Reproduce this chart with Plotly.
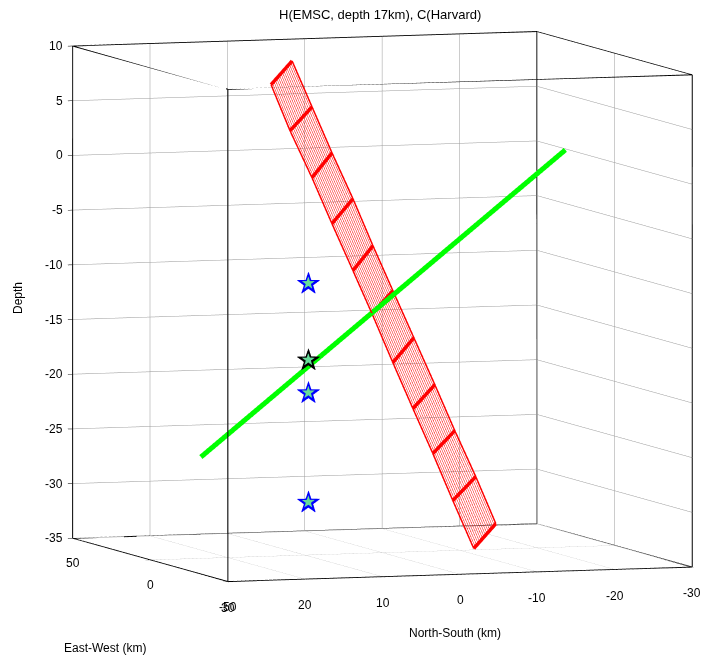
import numpy as np
import plotly.graph_objects as go

# ---------------- data ----------------
title_text = "H(EMSC, depth 17km), C(Harvard)"
ew_title = "East-West (km)"
ns_title = "North-South (km)"
depth_title = "Depth"
ew_range = [-50, 50]
ns_range = [-30, 30]
depth_range = [-35, 10]
ew_ticks = [-50, 0, 50]
ns_ticks = [-30, -20, -10, 0, 10, 20, 30]
depth_ticks = [-35, -30, -25, -20, -15, -10, -5, 0, 5, 10]

# fault plane strip (mesh): the two long edges, sampled at each cross line
strip_left_ew = 0.0
strip_left_ns = [14.39, 11.94, 9.10, 6.52, 3.81, 1.35, -1.35, -3.94, -6.52, -9.10, -11.81]
strip_left_z = [8.10, 3.84, -0.52, -4.78, -9.13, -13.11, -17.65, -21.91, -26.08, -30.43, -34.88]
strip_right_ew = 5.0
strip_right_ns = [10.67, 8.09, 5.51, 2.80, 0.22, -2.36, -5.07, -7.78, -10.36, -13.07, -15.66]
strip_right_z = [9.99, 5.73, 1.47, -2.79, -7.14, -11.31, -15.67, -20.02, -24.28, -28.54, -32.89]
strip_mesh_lines = 16

# green line
green_ew = [0.0, 0.0]
green_ns = [23.46, -23.64]
green_z = [-25.74, 1.30]

# hypocentres
star_ew = -2.0
star_ns = 10.0
blue_z = [-10, -20, -30]
black_z = [-17]

# ---------------- traces ----------------
fig = go.Figure()

# box frame derived from axis ranges
fx, fy, fz = [], [], []
X0, X1 = ew_range
Y0, Y1 = ns_range
Z0, Z1 = depth_range
edges = []
for y in (Y0, Y1):
    for z in (Z0, Z1):
        edges.append(((X0, y, z), (X1, y, z)))
for x in (X0, X1):
    for z in (Z0, Z1):
        edges.append(((x, Y0, z), (x, Y1, z)))
for x in (X0, X1):
    for y in (Y0, Y1):
        edges.append(((x, y, Z0), (x, y, Z1)))
for a, b in edges:
    fx += [a[0], b[0], None]
    fy += [a[1], b[1], None]
    fz += [a[2], b[2], None]
fig.add_trace(go.Scatter3d(x=fx, y=fy, z=fz, mode="lines",
                           line=dict(color="black", width=2),
                           hoverinfo="skip", showlegend=False))

# strip mesh: long lines
lns = np.array(strip_left_ns); lz = np.array(strip_left_z)
rns = np.array(strip_right_ns); rz = np.array(strip_right_z)
mx, my, mz = [], [], []
for f in np.linspace(0, 1, strip_mesh_lines):
    ew = strip_left_ew + f * (strip_right_ew - strip_left_ew)
    ns = lns + f * (rns - lns)
    zz = lz + f * (rz - lz)
    mx += [ew] * len(ns) + [None]
    my += list(ns) + [None]
    mz += list(zz) + [None]
fig.add_trace(go.Scatter3d(x=mx, y=my, z=mz, mode="lines",
                           line=dict(color="#ff0000", width=1),
                           hoverinfo="skip", showlegend=False))
# strip long edges
for ew, ns, zz in ((strip_left_ew, strip_left_ns, strip_left_z),
                   (strip_right_ew, strip_right_ns, strip_right_z)):
    fig.add_trace(go.Scatter3d(x=[ew] * len(ns), y=ns, z=zz, mode="lines",
                               line=dict(color="#ff0000", width=3),
                               hoverinfo="skip", showlegend=False))
# thick cross lines
cx, cy, cz = [], [], []
for i in range(len(strip_left_ns)):
    cx += [strip_left_ew, strip_right_ew, None]
    cy += [strip_left_ns[i], strip_right_ns[i], None]
    cz += [strip_left_z[i], strip_right_z[i], None]
fig.add_trace(go.Scatter3d(x=cx, y=cy, z=cz, mode="lines",
                           line=dict(color="#ff0000", width=7),
                           hoverinfo="skip", showlegend=False))

# green line
fig.add_trace(go.Scatter3d(x=green_ew, y=green_ns, z=green_z, mode="lines",
                           line=dict(color="#00ff00", width=10),
                           hoverinfo="skip", showlegend=False))

# stars (outline + fill)
for zs, col in ((blue_z, "#0000ff"), (black_z, "#000000")):
    fig.add_trace(go.Scatter3d(x=[star_ew] * len(zs), y=[star_ns] * len(zs), z=zs,
                               mode="text", text=["\u2605"] * len(zs),
                               textposition="middle center",
                               textfont=dict(size=31, color=col, family="DejaVu Sans"),
                               hoverinfo="skip", showlegend=False))
allz = blue_z + black_z
fig.add_trace(go.Scatter3d(x=[star_ew] * len(allz), y=[star_ns] * len(allz), z=allz,
                           mode="text", text=["\u2605"] * len(allz),
                           textposition="middle center",
                           textfont=dict(size=17, color="#66dd99", family="DejaVu Sans"),
                           hoverinfo="skip", showlegend=False))

axis_common = dict(showbackground=False, showgrid=True, gridcolor="#9a9a9a", gridwidth=1,
                   zeroline=False, showline=True, linecolor="black", linewidth=1.5,
                   mirror=True, showspikes=False,
                   ticks="outside", ticklen=5, tickcolor="black",
                   showticklabels=False, title=dict(text=""))

# tick labels as scene annotations (placed at the tick positions of the axes)
tick_font = dict(family="Liberation Sans, Arial", size=12, color="black")
scene_ann = []
for v in depth_ticks:
    scene_ann.append(dict(x=X1, y=Y1, z=v, text=str(v), showarrow=False,
                          xanchor="right", yanchor="middle", xshift=-8, font=tick_font))
for v in ew_ticks:
    scene_ann.append(dict(x=v, y=Y1, z=Z0, text=str(v), showarrow=False,
                          xanchor="center", yanchor="middle", yshift=-25, font=tick_font))
for v in ns_ticks:
    scene_ann.append(dict(x=X0, y=v, z=Z0, text=str(v), showarrow=False,
                          xanchor="center", yanchor="middle", yshift=-26, font=tick_font))

# camera (orthographic), shifted so the box sits where the reference has it
phi = np.deg2rad(161.5)
theta = np.deg2rad(5.35)
dirv = np.array([np.cos(theta) * np.cos(phi), np.cos(theta) * np.sin(phi), np.sin(theta)])
right_v = np.array([-np.sin(phi), np.cos(phi), 0.0])
up_v = np.array([-np.sin(theta) * np.cos(phi), -np.sin(theta) * np.sin(phi), np.cos(theta)])
s = 0.00304
shift = -s * (32.0 * right_v + 21.5 * up_v)
eye_v = shift + 1.5 * dirv
k = 1.0788 / 1.002
fig.update_layout(
    width=701, height=656,
    margin=dict(l=0, r=0, t=0, b=0),
    paper_bgcolor="white",
    font=dict(family="Liberation Sans, Arial", size=12, color="black"),
    scene=dict(
        domain=dict(x=[0.0, 1.0], y=[0.0, 1.0]),
        xaxis=dict(range=ew_range, tickvals=ew_ticks, **axis_common),
        yaxis=dict(range=ns_range, tickvals=ns_ticks, **axis_common),
        zaxis=dict(range=depth_range, tickvals=depth_ticks, **axis_common),
        aspectmode="manual",
        aspectratio=dict(x=1.607 / k, y=1.607 / k, z=1.623 / k),
        camera=dict(eye=dict(x=eye_v[0], y=eye_v[1], z=eye_v[2]),
                    up=dict(x=0, y=0, z=1),
                    center=dict(x=shift[0], y=shift[1], z=shift[2]),
                    projection=dict(type="orthographic")),
        annotations=scene_ann,
    ),
    annotations=[
        dict(text=title_text, x=380 / 701, y=1 - 14 / 656, xref="paper", yref="paper",
             xanchor="center", yanchor="middle", showarrow=False, font=dict(size=13)),
        dict(text=depth_title, x=18 / 701, y=1 - 298 / 656, xref="paper", yref="paper",
             xanchor="center", yanchor="middle", showarrow=False, textangle=-90,
             font=dict(size=12)),
        dict(text=ew_title, x=105 / 701, y=1 - 648 / 656, xref="paper", yref="paper",
             xanchor="center", yanchor="middle", showarrow=False, font=dict(size=12)),
        dict(text=ns_title, x=455 / 701, y=1 - 633 / 656, xref="paper", yref="paper",
             xanchor="center", yanchor="middle", showarrow=False, font=dict(size=12)),
    ],
)

fig.write_html("out.html", config={"displayModeBar": False},
               post_script="document.body.style.margin='0';document.body.style.overflow='hidden';")
